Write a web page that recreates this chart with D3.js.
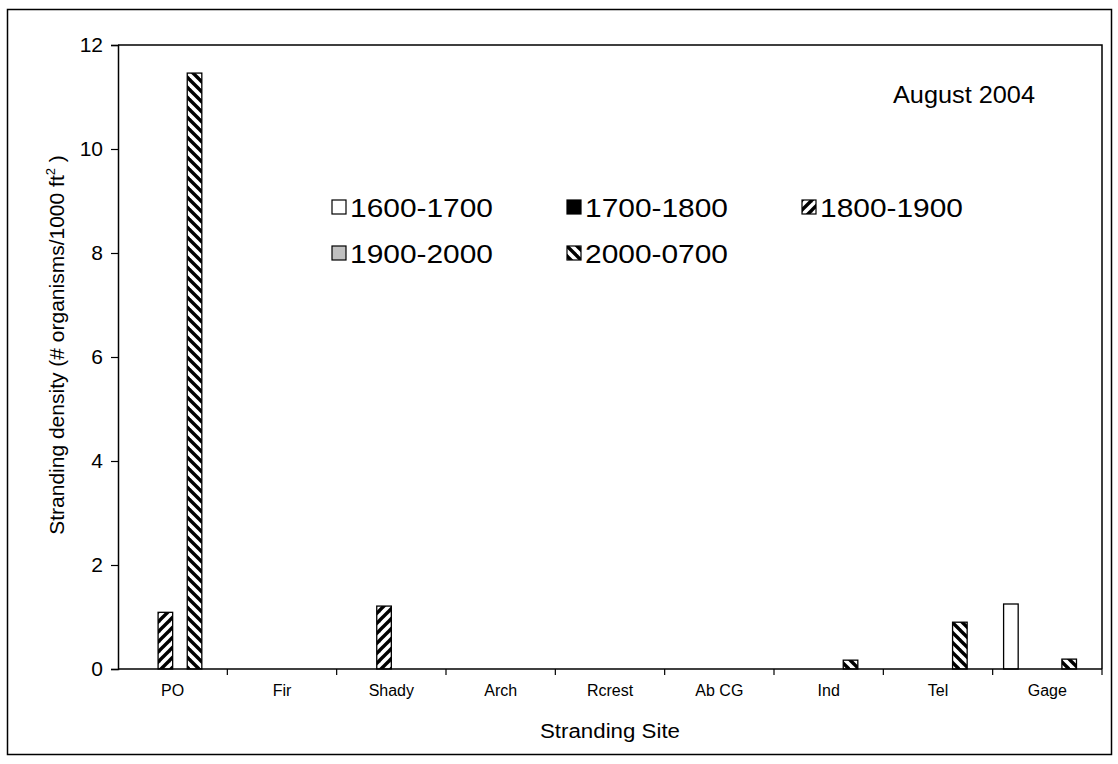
<!DOCTYPE html>
<html>
<head>
<meta charset="utf-8">
<script src="https://cdn.jsdelivr.net/npm/d3@7/dist/d3.min.js"></script>
<style>
  html, body { margin: 0; padding: 0; background: #fff; }
  svg { display: block; font-family: "Liberation Sans", Arial, sans-serif; }
</style>
</head>
<body>
<svg id="chart" width="1118" height="764"></svg>
<script>
// Stranding sites along the x axis
const sites = ["PO", "Fir", "Shady", "Arch", "Rcrest", "Ab CG", "Ind", "Tel", "Gage"];

// Time-window series (organisms per 1000 ft²)
const seriesNames = ["1600-1700", "1700-1800", "1800-1900", "1900-2000", "2000-0700"];
const v1600 = [0, 0, 0, 0, 0, 0, 0, 0, 1.25];
const v1700 = [0, 0, 0, 0, 0, 0, 0, 0, 0];
const v1800 = [1.09, 0, 1.21, 0, 0, 0, 0, 0, 0];
const v1900 = [0, 0, 0, 0, 0, 0, 0, 0, 0];
const v2000 = [11.46, 0, 0, 0, 0, 0, 0.17, 0.90, 0.19];
const seriesValues = [v1600, v1700, v1800, v1900, v2000];

const yTicks = [0, 2, 4, 6, 8, 10, 12];
const title = "August 2004";

const svg = d3.select("#chart");
const font = "'Liberation Sans', Arial, sans-serif";

// Fill patterns for each series
const defs = svg.append("defs");
function stripes(id, dir) {
  const p = defs.append("pattern").attr("id", id)
    .attr("patternUnits", "userSpaceOnUse").attr("width", 10).attr("height", 10);
  p.append("rect").attr("width", 10).attr("height", 10).attr("fill", "#fff");
  const segs = dir === "up"
    ? [[-5, 5, 5, -5], [0, 10, 10, 0], [5, 15, 15, 5]]
    : [[-5, 5, 5, 15], [0, 0, 10, 10], [5, -5, 15, 5]];
  segs.forEach(s => p.append("line")
    .attr("x1", s[0]).attr("y1", s[1]).attr("x2", s[2]).attr("y2", s[3])
    .attr("stroke", "#000").attr("stroke-width", 3.4));
}
stripes("upDiag", "up");
stripes("downDiag", "down");
const fills = ["#ffffff", "#000000", "url(#upDiag)", "#c0c0c0", "url(#downDiag)"];

// Outer chart frame
svg.append("rect").attr("x", 7.5).attr("y", 9.5).attr("width", 1104).attr("height", 745)
  .attr("fill", "#fff").attr("stroke", "#000").attr("stroke-width", 1.5);

const plot = { left: 118, top: 45, right: 1102, bottom: 669 };

const x0 = d3.scaleBand().domain(sites).range([plot.left, plot.right]).padding(0);
// six slots per site with a 150% gap; the sixth slot stays empty
const x1 = d3.scaleBand().domain(d3.range(6))
  .range([0, x0.bandwidth()]).paddingOuter(0.75).paddingInner(0);
const y = d3.scaleLinear().domain([0, 12]).range([plot.bottom, plot.top]);

// Plot area top and right edges
svg.append("path")
  .attr("d", `M${plot.left},${plot.top}H${plot.right}V${plot.bottom}`)
  .attr("fill", "none").attr("stroke", "#000").attr("stroke-width", 1.5);

// Bars
const bars = [];
seriesValues.forEach((vals, si) => {
  vals.forEach((v, ci) => { if (v > 0) bars.push({ site: sites[ci], si, v }); });
});
svg.append("g").selectAll("rect").data(bars).join("rect")
  .attr("x", d => x0(d.site) + x1(d.si))
  .attr("y", d => y(d.v))
  .attr("width", x1.bandwidth())
  .attr("height", d => y(0) - y(d.v))
  .attr("fill", d => fills[d.si])
  .attr("stroke", "#000").attr("stroke-width", 1.3);

// Y axis
const yAxis = svg.append("g").attr("transform", `translate(${plot.left},0)`)
  .call(d3.axisLeft(y).tickValues(yTicks).tickSize(7).tickPadding(8));
yAxis.select(".domain").attr("stroke-width", 1.5);
yAxis.selectAll(".tick line").attr("stroke-width", 1.2);
yAxis.selectAll("text").attr("font-size", 21).attr("font-family", font).attr("fill", "#000");

// X axis: ticks at site boundaries
const xAxisG = svg.append("g").attr("transform", `translate(0,${plot.bottom})`);
xAxisG.append("line").attr("x1", plot.left).attr("x2", plot.right)
  .attr("stroke", "#000").attr("stroke-width", 1.5);
xAxisG.selectAll("line.tk").data(sites.slice(1).concat(["end"])).join("line")
  .attr("class", "tk")
  .attr("x1", (d, i) => plot.left + x0.bandwidth() * (i + 1))
  .attr("x2", (d, i) => plot.left + x0.bandwidth() * (i + 1))
  .attr("y1", 0).attr("y2", 6).attr("stroke", "#000").attr("stroke-width", 1.2);
xAxisG.selectAll("text").data(sites).join("text")
  .attr("x", d => x0(d) + x0.bandwidth() / 2)
  .attr("y", 27)
  .attr("text-anchor", "middle")
  .attr("font-size", 16).attr("font-family", font)
  .text(d => d);

// Axis titles
svg.append("text")
  .attr("x", (plot.left + plot.right) / 2).attr("y", 738)
  .attr("text-anchor", "middle").attr("font-size", 20).attr("font-family", font)
  .attr("textLength", 140).attr("lengthAdjust", "spacingAndGlyphs")
  .text("Stranding Site");

const yt = svg.append("text")
  .attr("transform", "translate(64,345) rotate(-90)")
  .attr("text-anchor", "middle").attr("font-size", 21).attr("font-family", font);
yt.append("tspan").text("Stranding density (# organisms/1000 ft");
yt.append("tspan").attr("font-size", 13).attr("dy", -9).text("2");
yt.append("tspan").attr("dy", 9).text(" )");

// Title inside the plot
svg.append("text").attr("x", 964).attr("y", 103)
  .attr("text-anchor", "middle").attr("font-size", 24).attr("font-family", font)
  .attr("textLength", 142).attr("lengthAdjust", "spacingAndGlyphs")
  .text(title);

// Legend
const legendPos = [[332, 200], [567, 200], [802, 200], [332, 246], [567, 246]];
const lg = svg.append("g").selectAll("g").data(seriesNames).join("g")
  .attr("transform", (d, i) => `translate(${legendPos[i][0]},${legendPos[i][1]})`);
lg.append("rect").attr("width", 14).attr("height", 14)
  .attr("fill", (d, i) => fills[i]).attr("stroke", "#000").attr("stroke-width", 1.2);
lg.append("text").attr("x", 18).attr("y", 17)
  .attr("font-size", 26).attr("font-family", font)
  .attr("textLength", 143).attr("lengthAdjust", "spacingAndGlyphs")
  .text(d => d);
</script>
</body>
</html>
